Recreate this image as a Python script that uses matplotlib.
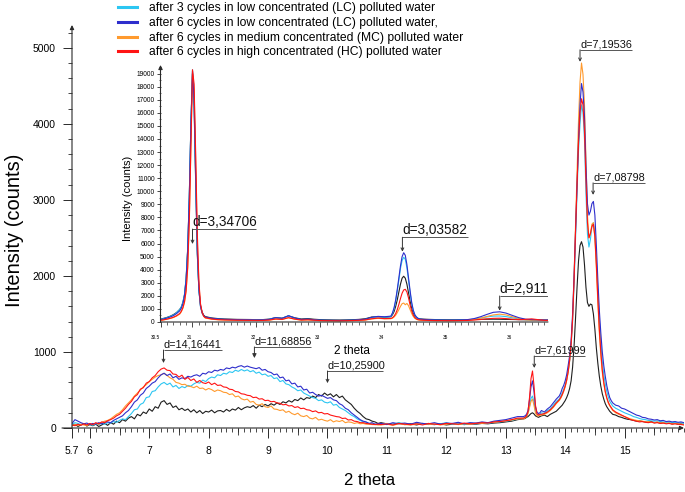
import numpy as np
import matplotlib
matplotlib.use("Agg")
import matplotlib.pyplot as plt
from matplotlib.ticker import MultipleLocator, FixedLocator, FuncFormatter, NullLocator
from matplotlib.lines import Line2D

plt.rcParams['font.family'] = ['Liberation Sans', 'DejaVu Sans']

# ---------------- main pattern (2 theta sample positions) ----------------
two_theta_main = np.concatenate([
    np.linspace(5.70, 10.85, 104),
    np.linspace(10.9, 13.2, 24),
    np.linspace(13.3, 13.575, 12),
    np.linspace(13.6, 13.85, 6),
    np.linspace(13.9, 14.775, 36),
    np.linspace(14.8, 16.0, 25),
])

lc3_main = [
    50, 70, 60, 45, 55, 40, 50, 35, 55, 45,
    60, 50, 70, 65, 85, 75, 100, 120, 110, 150,
    190, 240, 250, 310, 330, 400, 410, 480, 490, 540,
    580, 600, 570, 590, 540, 560, 520, 545, 530, 560,
    550, 580, 600, 590, 630, 610, 650, 670, 660, 700,
    690, 720, 710, 740, 730, 760, 745, 770, 750, 765,
    740, 755, 720, 735, 700, 710, 680, 690, 650, 660,
    610, 625, 580, 570, 540, 520, 490, 500, 460, 440,
    420, 400, 390, 360, 370, 340, 330, 345, 300, 310,
    270, 250, 230, 200, 170, 150, 120, 100, 80, 75,
    60, 55, 50, 45,
    50, 60, 45, 70, 55, 40, 65, 50, 60, 45, 55, 70, 50, 60, 45, 65, 55, 70, 60, 75, 80, 90, 100, 120,
    130, 140, 160, 200, 290, 390, 420, 340, 220, 180, 170, 180,
    200, 190, 230, 250, 300, 350,
    380, 420, 460, 510, 560, 640, 740, 880, 1080, 1400, 1900, 2500, 3100, 3650, 4000, 4250, 4150, 3800,
    3100, 2550, 2380, 2480, 2650, 2700, 2550, 2200, 1800, 1420, 1120, 880, 700, 580, 480, 410, 350, 320,
    290, 260, 240, 220, 200, 185, 170, 150, 140, 125, 115, 110, 100, 95, 90, 95, 85, 80, 75, 80,
    70, 75, 65, 70, 60,
]

lc6_main = [
    60, 110, 90, 70, 55, 65, 45, 60, 50, 70,
    55, 75, 80, 70, 100, 120, 140, 160, 200, 230,
    280, 340, 370, 430, 460, 520, 550, 590, 610, 660,
    700, 720, 690, 710, 660, 680, 640, 660, 650, 680,
    670, 690, 700, 680, 720, 710, 740, 730, 760, 750,
    770, 760, 790, 780, 800, 790, 810, 820, 800, 815,
    800, 790, 780, 795, 760, 770, 740, 730, 700, 710,
    660, 670, 620, 630, 580, 590, 540, 550, 500, 510,
    460, 470, 440, 420, 430, 410, 390, 400, 370, 360,
    320, 300, 260, 240, 200, 170, 140, 110, 90, 80,
    60, 70, 50, 55,
    60, 45, 70, 55, 65, 50, 75, 60, 55, 70, 50, 65, 60, 75, 55, 70, 65, 80, 70, 90, 100, 110, 130, 150,
    150, 160, 180, 230, 370, 540, 620, 480, 280, 210, 190, 200,
    230, 210, 250, 280, 330, 380,
    420, 460, 520, 560, 620, 700, 820, 950, 1150, 1500, 2000, 2600, 3200, 3800, 4250, 4530, 4420, 4100,
    3450, 2950, 2800, 2850, 2950, 2980, 2800, 2400, 1950, 1550, 1250, 1000, 820, 680, 560, 470, 400, 360,
    330, 300, 290, 260, 250, 230, 210, 190, 170, 160, 140, 135, 120, 115, 105, 110, 95, 100, 85, 90,
    80, 85, 75, 80, 70,
]

mc6_main = [
    30, 45, 35, 50, 40, 30, 55, 45, 60, 50,
    75, 90, 100, 120, 150, 180, 200, 240, 290, 330,
    370, 420, 460, 500, 540, 570, 610, 640, 670, 690,
    700, 720, 690, 660, 640, 600, 590, 570, 575, 550,
    545, 530, 550, 520, 525, 500, 520, 505, 480, 500,
    490, 470, 465, 440, 450, 410, 420, 385, 370, 380,
    340, 350, 310, 300, 320, 280, 270, 290, 250, 245,
    230, 240, 205, 220, 190, 175, 195, 160, 150, 165,
    130, 120, 140, 105, 115, 100, 90, 110, 80, 95,
    85, 100, 70, 80, 75, 60, 70, 55, 60, 50,
    50, 45, 45, 40,
    40, 50, 35, 55, 45, 40, 50, 60, 45, 55, 40, 50, 60, 45, 55, 50, 65, 60, 70, 75, 85, 95, 105, 120,
    120, 130, 150, 190, 270, 350, 380, 300, 200, 160, 160, 170,
    170, 180, 200, 230, 270, 320,
    360, 390, 430, 480, 540, 620, 730, 880, 1100, 1450, 2000, 2700, 3400, 4050, 4550, 4800, 4650, 4250,
    3500, 2800, 2500, 2550, 2680, 2700, 2500, 2100, 1650, 1250, 950, 730, 580, 470, 390, 330, 290, 260,
    230, 200, 180, 165, 150, 135, 120, 110, 100, 95, 90, 80, 85, 75, 70, 80, 65, 70, 60, 65,
    55, 60, 55, 50, 45,
]

hc6_main = [
    40, 30, 50, 35, 55, 40, 60, 45, 70, 55,
    80, 70, 95, 110, 130, 160, 180, 220, 260, 310,
    350, 410, 440, 510, 530, 590, 610, 660, 690, 740,
    775, 790, 760, 755, 710, 705, 670, 695, 640, 665,
    625, 645, 600, 625, 595, 585, 605, 570, 590, 560,
    565, 540, 535, 510, 505, 480, 475, 450, 445, 430,
    425, 400, 405, 380, 385, 360, 365, 345, 350, 330,
    325, 305, 310, 290, 295, 270, 280, 255, 260, 240,
    235, 215, 225, 200, 205, 185, 190, 170, 160, 150,
    145, 125, 130, 105, 110, 90, 85, 70, 70, 60,
    55, 50, 45, 50,
    45, 55, 40, 60, 50, 45, 55, 40, 60, 50, 45, 60, 55, 50, 65, 55, 60, 70, 65, 80, 85, 95, 110, 130,
    130, 140, 160, 220, 400, 650, 750, 560, 300, 190, 170, 180,
    180, 190, 210, 240, 280, 330,
    370, 400, 440, 490, 550, 630, 740, 890, 1100, 1430, 1950, 2600, 3200, 3750, 4150, 4330, 4250, 3900,
    3250, 2700, 2500, 2560, 2650, 2680, 2520, 2150, 1700, 1300, 1000, 760, 600, 480, 400, 340, 300, 270,
    240, 210, 190, 170, 150, 130, 110, 100, 90, 80, 85, 75, 70, 80, 65, 70, 60, 65, 55, 60,
    50, 55, 50, 45, 40,
]

ref_main = [
    30, 50, 20, 40, 60, 25, 45, 30, 50, 20,
    40, 60, 35, 70, 50, 90, 70, 110, 90, 130,
    150, 120, 180, 160, 210, 190, 250, 220, 280, 260,
    340, 360, 310, 330, 270, 290, 240, 260, 230, 250,
    210, 240, 200, 230, 190, 220, 210, 235, 200, 225,
    230, 210, 245, 220, 250, 235, 270, 240, 265, 280,
    270, 295, 260, 300, 280, 310, 290, 320, 300, 330,
    310, 345, 330, 360, 340, 375, 360, 395, 370, 400,
    390, 420, 400, 440, 420, 460, 430, 450, 410, 440,
    400, 420, 370, 340, 310, 260, 220, 190, 150, 120,
    110, 90, 80, 60,
    70, 55, 50, 65, 45, 55, 40, 60, 50, 45, 55, 40, 50, 60, 45, 55, 50, 60, 55, 65, 70, 80, 90, 110,
    120, 125, 140, 150, 170, 190, 200, 185, 160, 150, 140, 150,
    160, 170, 150, 180, 200, 220,
    260, 280, 300, 330, 360, 400, 450, 520, 620, 800, 1080, 1450, 1850, 2200, 2400, 2450, 2380, 2150,
    1850, 1650, 1600, 1630, 1620, 1500, 1300, 1050, 850, 680, 550, 450, 380, 320, 280, 250, 220, 200,
    180, 170, 150, 140, 125, 115, 110, 100, 90, 95, 85, 80, 75, 85, 70, 75, 65, 70, 60, 65,
    55, 60, 50, 55, 45,
]

# ---------------- inset pattern ----------------
two_theta_inset = np.concatenate([
    np.linspace(30.5, 30.8, 7),
    np.linspace(30.825, 31.2, 16),
    np.linspace(31.3, 34.1, 29),
    np.linspace(34.125, 34.55, 18),
    np.linspace(34.6, 36.6, 21),
])

lc3_inset = [
    200, 260, 330, 420, 530, 700, 950,
    1150, 1500, 2100, 3300, 5600, 9600, 15200, 19300, 16800, 10800, 5300, 2400, 1150, 680, 460, 360,
    270, 220, 195, 185, 175, 170, 165, 160, 160, 210, 320, 270, 470, 290, 185, 210, 165, 135, 125, 120,
    115, 125, 135, 160, 200, 330, 400, 370, 420,
    650, 1000, 1600, 2400, 3200, 4100, 4700, 4950, 4800, 4150, 3200, 2250, 1400, 850, 520, 360, 270, 220,
    190, 160, 150, 140, 135, 140, 150, 170, 220, 300, 390, 450, 460, 410, 320, 240, 190, 165, 155, 145, 140,
]
lc6_inset = [
    180, 230, 300, 380, 480, 640, 850,
    1050, 1400, 2000, 3200, 5500, 9500, 15000, 19200, 17000, 11000, 5500, 2500, 1200, 700, 480, 380,
    280, 230, 200, 190, 180, 175, 170, 160, 165, 200, 330, 280, 480, 300, 190, 220, 170, 140, 130, 125,
    120, 130, 140, 170, 210, 360, 430, 400, 450,
    700, 1100, 1700, 2500, 3400, 4300, 5000, 5300, 5100, 4400, 3400, 2400, 1500, 900, 550, 380, 280, 230,
    200, 170, 155, 145, 140, 145, 155, 185, 260, 400, 580, 740, 780, 680, 500, 330, 220, 180, 165, 150, 145,
]
mc6_inset = [
    120, 160, 210, 270, 340, 450, 600,
    780, 1050, 1500, 2350, 4100, 7600, 13200, 19000, 17800, 12200, 6300, 2900, 1300, 700, 420, 300,
    210, 170, 150, 140, 130, 125, 120, 115, 115, 140, 220, 190, 330, 210, 140, 160, 130, 100, 95, 90,
    85, 95, 105, 120, 150, 230, 280, 240, 250,
    290, 380, 520, 720, 950, 1200, 1400, 1450, 1320, 1420, 1250, 950, 650, 420, 280, 200, 160, 140,
    130, 115, 105, 100, 95, 100, 110, 130, 190, 290, 420, 540, 600, 540, 400, 270, 180, 140, 125, 115, 110,
]
hc6_inset = [
    130, 170, 220, 280, 360, 480, 650,
    820, 1100, 1550, 2400, 4200, 7800, 13500, 19300, 18200, 12800, 6800, 3100, 1400, 750, 450, 330,
    230, 180, 160, 150, 140, 135, 130, 125, 125, 150, 230, 200, 330, 220, 150, 170, 140, 110, 100, 95,
    90, 100, 110, 130, 160, 250, 300, 260, 270,
    330, 450, 650, 950, 1350, 1800, 2200, 2450, 2500, 2300, 1850, 1300, 850, 520, 330, 230, 180, 160,
    140, 120, 110, 105, 100, 105, 110, 120, 150, 190, 240, 280, 290, 260, 210, 180, 200, 240, 180, 130, 120,
]
ref_inset = [
    220, 280, 350, 440, 560, 720, 960,
    1150, 1500, 2100, 3300, 5600, 9600, 15100, 19000, 16500, 10600, 5200, 2450, 1250, 760, 520, 410,
    310, 260, 230, 215, 200, 195, 190, 180, 185, 220, 340, 290, 470, 320, 230, 260, 210, 180, 165, 155,
    150, 160, 175, 200, 250, 380, 400, 360, 400,
    560, 800, 1200, 1700, 2300, 2900, 3350, 3500, 3350, 2900, 2250, 1600, 1050, 680, 450, 330, 270, 240,
    220, 200, 185, 175, 170, 170, 175, 180, 190, 200, 210, 215, 210, 200, 190, 180, 170, 165, 160, 155, 150,
]

legend_labels = [
    "after 3 cycles in low concentrated (LC) polluted water",
    "after 6 cycles in low concentrated (LC) polluted water,",
    "after 6 cycles in medium concentrated (MC) polluted water",
    "after 6 cycles in high concentrated (HC) polluted water",
]
colors = {"lc3": "#2CC6F2", "lc6": "#2E2ECC", "mc6": "#FF9A2E", "hc6": "#FF1414", "ref": "#1E1E1E"}

main_ticks = [5.7, 6, 7, 8, 9, 10, 11, 12, 13, 14, 15]
inset_ticks = [30.5, 31, 32, 33, 34, 35, 36]

# callouts: label, peak 2theta, arrow tip, leader level, leader length
main_callouts = [
    ("d=14,16441", 7.24, 855, 1026, 0.98, False),
    ("d=11,68856", 8.77, 920, 1066, 0.96, True),
    ("d=10,25900", 10.0, 590, 750, 0.93, False),
    ("d=7,61999", 13.48, 790, 947, 0.86, False),
    ("d=7,19536", 14.25, 4816, 4974, 0.88, False),
    ("d=7,08798", 14.47, 3066, 3224, 0.88, False),
]
inset_callouts = [
    ("d=3,34706", 31.0, 5970, 7110, 1.0, False),
    ("d=3,03582", 34.28, 5380, 6480, 1.02, False),
    ("d=2,911", 35.80, 865, 1990, 0.77, False),
]

AX = "#2a2a2a"


def callout(ax, label, x, tip, level, length, filled, size):
    ax.annotate("", xy=(x, tip), xytext=(x, level),
                arrowprops=dict(arrowstyle="-|>" if filled else "->", lw=0.7, color="#333333",
                                shrinkA=0, shrinkB=0, mutation_scale=6 if filled else 5))
    ax.plot([x, x + length], [level, level], color="#555555", lw=0.7, solid_capstyle="butt")
    ax.text(x, level, label, ha="left", va="bottom", fontsize=size, color="#111111")


def axis_arrows(ax, xstart, x_arrow=True, y_arrow=True):
    ax.annotate("", xy=(1.0, 0), xytext=(xstart, 0), xycoords="axes fraction",
                arrowprops=dict(arrowstyle="-|>" if x_arrow else "-", lw=0.8, color=AX,
                                shrinkA=0, shrinkB=0, mutation_scale=6))
    ax.annotate("", xy=(0, 1.0), xytext=(0, 0), xycoords="axes fraction",
                arrowprops=dict(arrowstyle="-|>" if y_arrow else "-", lw=0.8, color=AX,
                                shrinkA=0, shrinkB=0, mutation_scale=6))


fig = plt.figure(figsize=(6.85, 4.92), dpi=100)

# ---------------- main axes ----------------
ax = fig.add_axes([72 / 685, 1 - 428 / 492, 612 / 685, 403 / 492])
ax.set_xlim(5.7, 16.0)
ax.set_ylim(0, 5300)
for s in ax.spines.values():
    s.set_visible(False)
axis_arrows(ax, -10 / 612)

order = [("ref", ref_main), ("lc3", lc3_main), ("mc6", mc6_main), ("lc6", lc6_main), ("hc6", hc6_main)]
for key, vals in order:
    ax.plot(two_theta_main, vals, color=colors[key], lw=0.8)

ax.xaxis.set_major_locator(FixedLocator(main_ticks))
ax.xaxis.set_major_formatter(FuncFormatter(lambda v, p: "%g" % v))
ax.xaxis.set_minor_locator(MultipleLocator(0.1))
ax.yaxis.set_major_locator(MultipleLocator(1000))
ax.yaxis.set_minor_locator(MultipleLocator(200))
ax.tick_params(axis="x", which="major", direction="out", length=7.2, width=0.7, color=AX,
               pad=6, labelsize=7.5)
ax.tick_params(axis="x", which="minor", direction="out", length=2.9, width=0.6, color=AX)
ax.tick_params(axis="y", which="major", direction="out", length=6.5, width=0.7, color=AX,
               pad=5, labelsize=7.5)
ax.tick_params(axis="y", which="minor", direction="out", length=2.9, width=0.6, color=AX)

sec = ax.secondary_xaxis("bottom")
sec.set_xticks([v + 0.5 for v in main_ticks[1:]])
sec.xaxis.set_minor_locator(NullLocator())
sec.tick_params(axis="x", direction="out", length=4.7, width=0.6, color=AX, labelbottom=False)
sec.spines["bottom"].set_visible(False)

ax.set_xlabel("2 theta", fontsize=12)
ax.xaxis.set_label_coords(0.487, -0.112)
ax.set_ylabel("Intensity (counts)", fontsize=14.5)
ax.yaxis.set_label_coords(-0.079, 0.49)

for lab, x, tip, lev, ln, filled in main_callouts:
    callout(ax, lab, x, tip, lev, ln, filled, 7.8)

# ---------------- inset axes ----------------
axi = fig.add_axes([160.5 / 685, 1 - 322 / 492, 387.5 / 685, 257 / 492])
axi.patch.set_alpha(0)
axi.set_xlim(30.5, 36.555)
axi.set_ylim(0, 19660)
for s in axi.spines.values():
    s.set_visible(False)
axis_arrows(axi, 0, x_arrow=False)

order_i = [("ref", ref_inset), ("lc3", lc3_inset), ("mc6", mc6_inset), ("lc6", lc6_inset), ("hc6", hc6_inset)]
for key, vals in order_i:
    axi.plot(two_theta_inset, vals, color=colors[key], lw=0.8)

axi.set_xticks(inset_ticks, labels=["%g" % t for t in inset_ticks], ha="right")
axi.xaxis.set_minor_locator(MultipleLocator(0.1))
axi.yaxis.set_major_locator(MultipleLocator(1000))
axi.yaxis.set_minor_locator(MultipleLocator(500))
axi.tick_params(axis="x", which="major", direction="out", length=3.6, width=0.6, color=AX,
                pad=5.5, labelsize=3.4)
axi.tick_params(axis="x", which="minor", direction="out", length=2.0, width=0.5, color=AX)
axi.tick_params(axis="y", which="major", direction="out", length=2.6, width=0.6, color=AX,
                pad=1.5, labelsize=4.8)
axi.tick_params(axis="y", which="minor", direction="out", length=1.6, width=0.5, color=AX)

axi.set_xlabel("2 theta", fontsize=8.5)
axi.xaxis.set_label_coords(0.494, -0.089)
axi.set_ylabel("Intensity (counts)", fontsize=8)
axi.yaxis.set_label_coords(-0.071, 0.482)

for lab, x, tip, lev, ln, filled in inset_callouts:
    callout(axi, lab, x, tip, lev, ln, filled, 9.8)

# ---------------- legend ----------------
handles = [Line2D([], [], color=colors[k], lw=2.2) for k in ["lc3", "lc6", "mc6", "hc6"]]
fig.legend(handles, legend_labels, loc="upper left", bbox_to_anchor=(118 / 685, 0.995),
           frameon=False, fontsize=8.7, handlelength=1.6, handletextpad=0.95,
           labelspacing=0.22, borderpad=0, borderaxespad=0)

fig.savefig("out.png", dpi=100)
